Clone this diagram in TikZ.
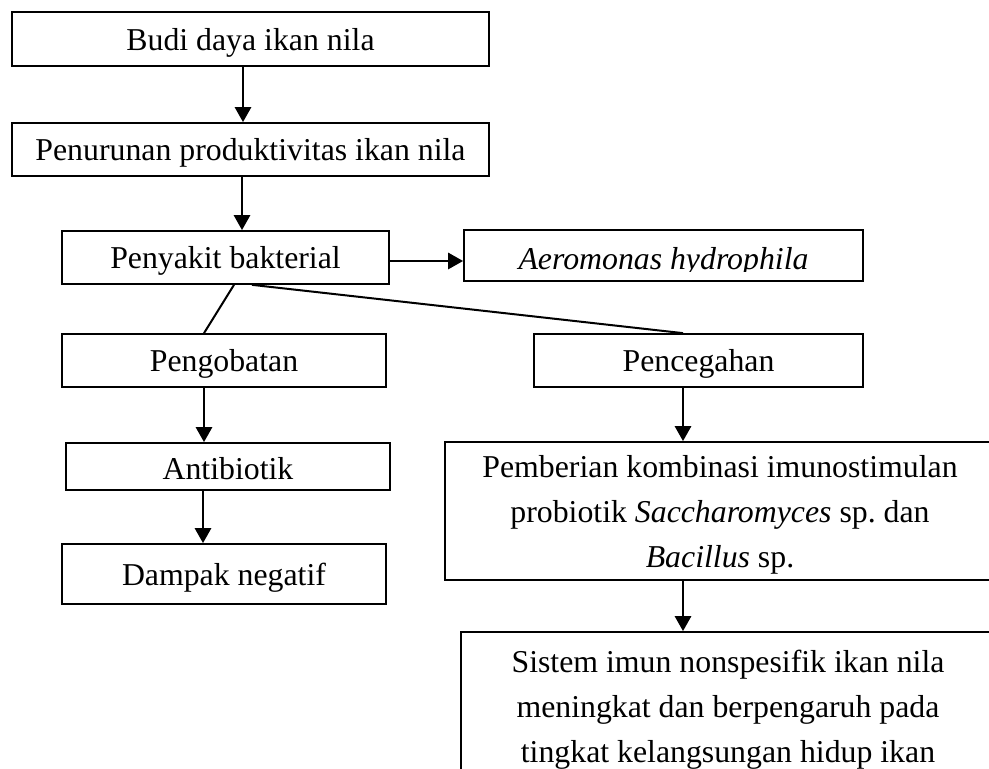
\documentclass[tikz,border=0pt]{standalone}
\usepackage{fontspec}
\setmainfont{Liberation Serif}
\frenchspacing
\usepackage{tikz}
\usetikzlibrary{arrows.meta}
\tikzset{
  box/.style={draw, line width=0.85pt, inner sep=0pt, align=center, text depth=0pt},
  arr/.style={line width=1.4pt, -{Triangle[length=7.5pt,width=8pt]}},
  link/.style={line width=1pt},
}
\newcommand{\boxnode}[6]{\node[box, minimum width=#4*0.5pt, minimum height=#5*0.5pt] (#1) at (#2,#3) {#6};}

\begin{document}
\begin{tikzpicture}[x=0.5pt, y=-0.5pt, font=\fontsize{15.9}{22.5}\selectfont]
        \clip (0,0) rectangle (989,769);
        \fill[white] (0,0) rectangle (989,769);
        % top chain
        \boxnode{budi}{250.5}{39}{477}{54}{Budi daya ikan nila}
        \boxnode{turun}{250.5}{149.5}{477}{53}{Penurunan produktivitas ikan nila}
        \boxnode{sakit}{225.5}{257.5}{327}{53}{Penyakit bakterial}
        \boxnode{aero}{663.5}{255.5}{399}{51}{}
        \begin{scope}
          \clip (464,230) rectangle (863,272);
          \node[anchor=base] (aerotxt) at (663.5,270) {\textit{Aeromonas hydrophila}};
        \end{scope}
        % left branch
        \boxnode{obat}{224}{360.5}{324}{53}{Pengobatan}
        \boxnode{anti}{228}{466.5}{324}{47}{}
        \begin{scope}
          \clip (66,443) rectangle (390,481);
          \node[anchor=base] (antitxt) at (228,480) {Antibiotik};
        \end{scope}
        \boxnode{dampak}{224}{574}{324}{60}{Dampak negatif}
        % right branch
        \boxnode{cegah}{698.5}{360.5}{329}{53}{Pencegahan}
        \boxnode{beri}{720}{511}{550}{138}{Pemberian kombinasi imunostimulan\\probiotik \textit{Saccharomyces} sp. dan\\\textit{Bacillus} sp.}
        \boxnode{imun}{728}{716}{534}{168}{}
        \node[anchor=north, align=center] (imuntxt) at ([yshift=-6pt]imun.north) {Sistem imun nonspesifik ikan nila\\meningkat dan berpengaruh pada\\tingkat kelangsungan hidup ikan};
        % arrows
        \draw[arr] ([xshift=-3.75pt]budi.south) -- ([xshift=-3.75pt]turun.north);
        \draw[arr] ([xshift=-4.25pt]turun.south) coordinate (t) -- (t |- sakit.north);
        \draw[arr] ([yshift=-1.75pt]sakit.east) coordinate (s) -- (s -| aero.west);
        \draw[link] ([xshift=4.25pt]sakit.south) -- ([xshift=-10pt]obat.north);
        \draw[link] ([xshift=13.25pt]sakit.south) -- ([xshift=-7.75pt]cegah.north);
        \draw[arr] ([xshift=-10pt]obat.south) coordinate (o) -- (o |- anti.north);
        \draw[arr] ([xshift=-12.5pt]anti.south) coordinate (a) -- (a |- dampak.north);
        \draw[arr] ([xshift=-7.75pt]cegah.south) coordinate (c) -- (c |- beri.north);
        \draw[arr] ([xshift=-18.5pt]beri.south) coordinate (b) -- (b |- imun.north);
\end{tikzpicture}
\end{document}
